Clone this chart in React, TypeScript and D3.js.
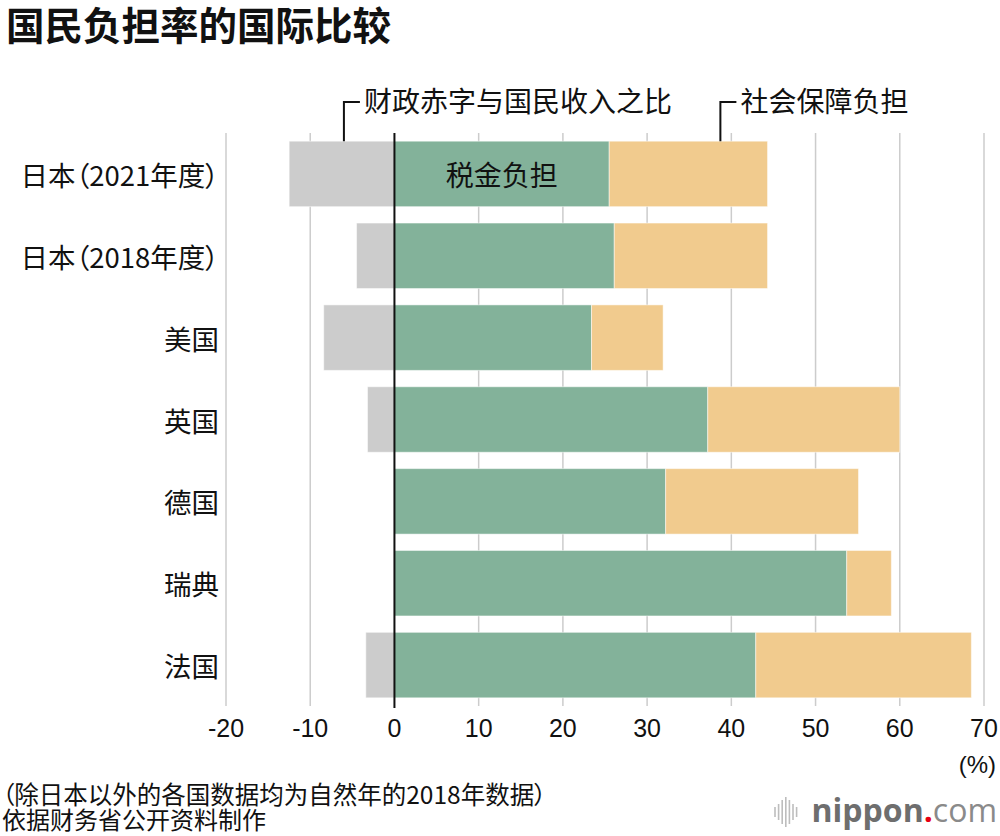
import { useRef, useEffect } from 'react';
import * as d3 from 'd3';

const COUNTRIES = ['日本（2021年度）', '日本（2018年度）', '美国', '英国', '德国', '瑞典', '法国'];
const DEFICIT = [-12.5, -4.5, -8.4, -3.2, 0, 0, -3.4];
const TAX = [25.5, 26.1, 23.4, 37.2, 32.2, 53.7, 42.9];
const SOCIAL = [18.8, 18.2, 8.5, 22.8, 22.9, 5.3, 25.6];
const X_TICKS = [-20, -10, 0, 10, 20, 30, 40, 50, 60, 70];

const TITLE = '国民负担率的国际比较';
const NOTE_LINES = ['（除日本以外的各国数据均为自然年的2018年数据）', '依据财务省公开资料制作'];

const CJK = '"Noto Sans CJK SC", "Noto Sans", sans-serif';
const LATIN = '"Liberation Sans", Arial, sans-serif';

const COLORS = { deficit: '#cccccc', tax: '#83b29a', social: '#f1cb8e' };

export default function App() {
  const svgRef = useRef<SVGSVGElement>(null);

  useEffect(() => {
    if (!svgRef.current) return;
    const svg = d3.select(svgRef.current);
    svg.selectAll('*').remove();

    const W = 1000;
    const H = 836;
    svg.attr('width', W).attr('height', H);
    svg.append('rect').attr('width', W).attr('height', H).attr('fill', '#fff');

    const top = 133;
    const bottom = 706;

    const x = d3.scaleLinear().domain([-20, 70]).range([226, 984]);
    const y = d3
      .scaleBand<string>()
      .domain(COUNTRIES)
      .range([top, bottom])
      .paddingInner(0.2)
      .paddingOuter(0.1);

    // Title
    svg
      .append('text')
      .attr('x', 6)
      .attr('y', 40)
      .attr('font-family', CJK)
      .attr('font-weight', 700)
      .attr('font-size', 38.5)
      .attr('fill', '#111')
      .text(TITLE);

    // Grid
    svg
      .append('g')
      .selectAll('line')
      .data(X_TICKS.filter((d) => d !== 0))
      .join('line')
      .attr('x1', (d) => x(d))
      .attr('x2', (d) => x(d))
      .attr('y1', top)
      .attr('y2', bottom)
      .attr('stroke', '#cccccc')
      .attr('stroke-width', 1.5);

    // Bars
    const rows = COUNTRIES.map((c, i) => ({
      c,
      deficit: DEFICIT[i],
      tax: TAX[i],
      social: SOCIAL[i],
    }));
    const segs: { c: string; x0: number; x1: number; color: string }[] = [];
    rows.forEach((r) => {
      if (r.deficit < 0) segs.push({ c: r.c, x0: r.deficit, x1: 0, color: COLORS.deficit });
      segs.push({ c: r.c, x0: 0, x1: r.tax, color: COLORS.tax });
      segs.push({ c: r.c, x0: r.tax, x1: r.tax + r.social, color: COLORS.social });
    });
    svg
      .append('g')
      .selectAll('rect')
      .data(segs)
      .join('rect')
      .attr('x', (d) => x(d.x0))
      .attr('width', (d) => x(d.x1) - x(d.x0))
      .attr('y', (d) => y(d.c)!)
      .attr('height', y.bandwidth())
      .attr('fill', (d) => d.color)
      .attr('stroke', '#ffffff')
      .attr('stroke-opacity', 0.5)
      .attr('stroke-width', 1);

    // Zero line
    svg
      .append('line')
      .attr('x1', x(0))
      .attr('x2', x(0))
      .attr('y1', top)
      .attr('y2', bottom + 2)
      .attr('stroke', '#111')
      .attr('stroke-width', 2);

    // Row labels
    svg
      .append('g')
      .selectAll('text')
      .data(COUNTRIES)
      .join('text')
      .attr('x', 219)
      .attr('y', (d) => y(d)! + y.bandwidth() / 2)
      .attr('text-anchor', 'end')
      .attr('dominant-baseline', 'central')
      .attr('font-family', CJK)
      .attr('font-size', 27.5)
      .style('font-feature-settings', '"palt"')
      .attr('fill', '#111')
      .text((d) => d);

    // Tax label inside first bar
    svg
      .append('text')
      .attr('x', x(TAX[0] / 2))
      .attr('y', y(COUNTRIES[0])! + y.bandwidth() / 2)
      .attr('text-anchor', 'middle')
      .attr('dominant-baseline', 'central')
      .attr('font-family', CJK)
      .attr('font-size', 28)
      .attr('fill', '#111')
      .text('税金负担');

    // Bracket annotations
    const barTop = y(COUNTRIES[0])!;
    const notes = [
      { v: -6, label: '财政赤字与国民收入之比' },
      { v: 38.7, label: '社会保障负担' },
    ];
    notes.forEach((n) => {
      const px = x(n.v);
      svg
        .append('path')
        .attr('d', `M${px},${barTop} V102 H${px + 16}`)
        .attr('fill', 'none')
        .attr('stroke', '#111')
        .attr('stroke-width', 2);
      svg
        .append('text')
        .attr('x', px + 20)
        .attr('y', 112)
        .attr('font-family', CJK)
        .attr('font-size', 28)
        .attr('fill', '#111')
        .text(n.label);
    });

    // X axis labels
    svg
      .append('g')
      .selectAll('text')
      .data(X_TICKS)
      .join('text')
      .attr('x', (d) => x(d))
      .attr('y', 737)
      .attr('text-anchor', 'middle')
      .attr('font-family', LATIN)
      .attr('font-size', 25)
      .attr('fill', '#111')
      .text((d) => String(d));

    svg
      .append('text')
      .attr('x', 996)
      .attr('y', 773)
      .attr('text-anchor', 'end')
      .attr('font-family', LATIN)
      .attr('font-size', 24)
      .attr('fill', '#111')
      .text('(%)');

    // Notes
    NOTE_LINES.forEach((line, i) => {
      svg
        .append('text')
        .attr('x', 2)
        .attr('y', 804 + i * 25)
        .attr('font-family', CJK)
        .attr('font-size', i === 0 ? 24.5 : 24)
        .style('font-feature-settings', '"palt"')
        .attr('fill', '#111')
        .text(line);
    });

    // nippon.com logo
    const logo = svg.append('g');
    const barHeights = [10, 16, 24, 30, 24, 16, 10];
    barHeights.forEach((h, i) => {
      logo
        .append('line')
        .attr('x1', 775 + i * 3.6)
        .attr('x2', 775 + i * 3.6)
        .attr('y1', 812 - h / 2)
        .attr('y2', 812 + h / 2)
        .attr('stroke', '#bdbdbd')
        .attr('stroke-width', 1.6);
    });
    const logoText = logo
      .append('text')
      .attr('x', 997)
      .attr('y', 822)
      .attr('text-anchor', 'end')
      .attr('font-family', '"Open Sans", sans-serif')
      .attr('font-size', 32);
    logoText.append('tspan').attr('font-weight', 700).attr('fill', '#6e6e6e').text('nippon');
    logoText.append('tspan').attr('font-weight', 700).attr('fill', '#e60012').text('.');
    logoText.append('tspan').attr('font-weight', 400).attr('fill', '#8a8a8a').text('com');
  }, []);

  return (
    <div style={{ position: 'absolute', left: 0, top: 0 }}>
      <svg ref={svgRef} style={{ display: 'block' }} />
    </div>
  );
}
